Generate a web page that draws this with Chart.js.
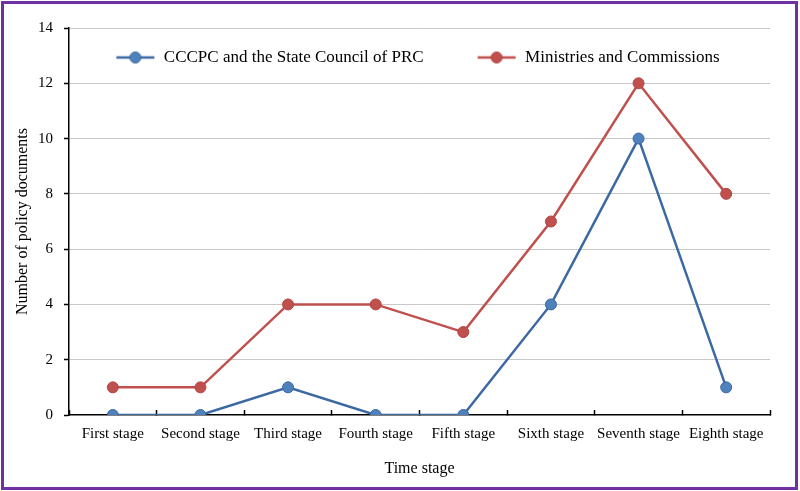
<!DOCTYPE html>
<html>
<head>
<meta charset="utf-8">
<script src="https://cdn.jsdelivr.net/npm/chart.js@4"></script>
<style>
  body { margin: 0; background: #fff; }
  #box { position: absolute; left: 1px; top: 1px; width: 797px; height: 489px; border: 3px solid #7030A0; box-sizing: border-box; }
  #myChart { display: block; }
</style>
</head>
<body>
<div id="box"><canvas id="myChart" width="791" height="483"></canvas></div>
<script>
const stages = ["First stage", "Second stage", "Third stage", "Fourth stage", "Fifth stage", "Sixth stage", "Seventh stage", "Eighth stage"];
const cccpc = [0, 0, 1, 0, 0, 4, 10, 1];
const ministries = [1, 1, 4, 4, 3, 7, 12, 8];
const seriesNames = ["CCCPC and the State Council of PRC", "Ministries and Commissions"];

const font = "'Liberation Serif', 'Times New Roman', serif";
const blue = { line: "#3D69A3", fill: "#4F81BD", edge: "#3A66A0" };
const red = { line: "#C0504D", fill: "#C0504D", edge: "#B34542" };

// legend sample: blank space on the left (gap to previous item), then line with a dot
function legendIcon(col) {
  const c = document.createElement("canvas");
  c.width = 72;
  c.height = 14;
  const g = c.getContext("2d");
  g.strokeStyle = col.line;
  g.lineWidth = 2.5;
  g.beginPath();
  g.moveTo(33, 7);
  g.lineTo(71, 7);
  g.stroke();
  g.fillStyle = col.fill;
  g.strokeStyle = col.edge;
  g.lineWidth = 1;
  g.beginPath();
  g.arc(52, 7, 5.5, 0, Math.PI * 2);
  g.fill();
  g.stroke();
  return c;
}
const icons = [legendIcon(blue), legendIcon(red)];

// keep the legend as one row inside the plot area
const legendRow = {
  id: "legendRow",
  afterInit(chart) {
    if (chart.legend) chart.legend.isHorizontal = () => true;
  },
  afterLayout(chart) {
    const lg = chart.legend;
    if (lg) {
      lg.left = chart.chartArea.left - 18;
      lg.right = chart.chartArea.right - 18;
    }
  },
};

const ctx = document.getElementById("myChart");

new Chart(ctx, {
  type: "line",
  data: {
    labels: stages,
    datasets: [
      {
        label: seriesNames[0],
        data: cccpc,
        borderColor: blue.line,
        borderWidth: 2.5,
        pointBackgroundColor: blue.fill,
        pointBorderColor: blue.edge,
        pointBorderWidth: 1,
        pointRadius: 5.5,
        tension: 0,
      },
      {
        label: seriesNames[1],
        data: ministries,
        borderColor: red.line,
        borderWidth: 2.5,
        pointBackgroundColor: red.fill,
        pointBorderColor: red.edge,
        pointBorderWidth: 1,
        pointRadius: 5.5,
        tension: 0,
      },
    ],
  },
  plugins: [legendRow],
  options: {
    responsive: false,
    animation: false,
    layout: { padding: { left: 0, right: 25, top: 24, bottom: 0 } },
    plugins: {
      tooltip: { enabled: false },
      legend: {
        position: "chartArea",
        align: "center",
        labels: {
          usePointStyle: true,
          pointStyleWidth: 72,
          padding: 21,
          color: "#000",
          font: { family: font, size: 17 },
          generateLabels: (chart) =>
            chart.data.datasets.map((ds, i) => ({
              text: ds.label,
              pointStyle: icons[i],
              fillStyle: ds.borderColor,
              strokeStyle: ds.borderColor,
              lineWidth: 0,
              hidden: false,
              datasetIndex: i,
            })),
        },
      },
    },
    scales: {
      x: {
        offset: true,
        afterFit: (s) => { s.height = 72; },
        grid: {
          offset: true,
          drawOnChartArea: false,
          drawTicks: true,
          tickLength: -5,
          tickColor: "#000",
          tickWidth: 1.5,
        },
        border: { color: "#000", width: 1.5 },
        ticks: { color: "#000", padding: 15, font: { family: font, size: 15 }, maxRotation: 0, autoSkip: false },
        title: { display: true, text: "Time stage", color: "#000", font: { family: font, size: 16 }, padding: { top: 9, bottom: 9 } },
      },
      y: {
        min: 0,
        max: 14,
        afterFit: (s) => { s.width = 65; },
        grid: {
          color: (c) => (c.tick.value === 0 ? "rgba(0,0,0,0)" : "#C8C8C8"),
          borderDash: [1, 2],
          tickBorderDash: [1, 0],
          drawTicks: true,
          tickLength: 5,
          tickColor: "#000",
          tickWidth: 1.5,
        },
        border: { color: "#000", width: 1.5 },
        ticks: { stepSize: 2, color: "#000", padding: 11, font: { family: font, size: 15 } },
        title: { display: true, text: "Number of policy documents", color: "#000", font: { family: font, size: 16 }, padding: { top: 9, bottom: 4 } },
      },
    },
  },
});
</script>
</body>
</html>
